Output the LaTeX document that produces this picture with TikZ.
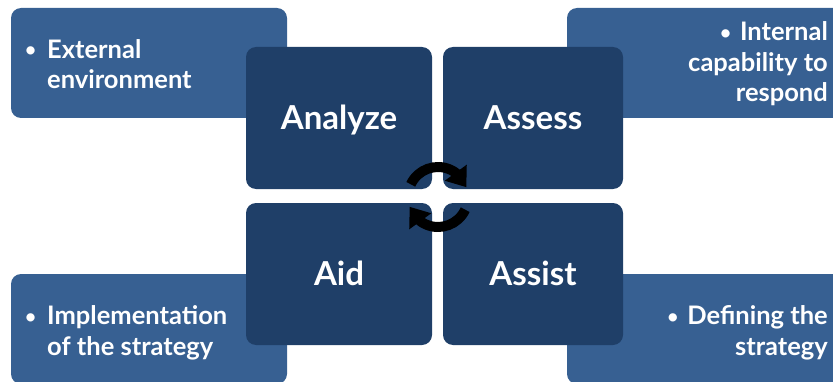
\documentclass[tikz,border=0pt]{standalone}
\usepackage{fontspec}
\setmainfont{Lato}
\usepackage{tikz}
\usetikzlibrary{arrows.meta, bending}
\definecolor{outerblue}{RGB}{55,96,146}
\definecolor{innerblue}{RGB}{31,63,104}
\newcommand{\smallbullet}{\raisebox{1.5pt}{\fontsize{19}{19}\selectfont\textbullet}}
\tikzstyle{outerbox} = [rectangle, rounded corners=10pt, fill=outerblue, minimum width=276pt, minimum height=110pt, inner sep=0]
\tikzstyle{innerbox} = [rectangle, rounded corners=10pt, fill=innerblue, minimum height=142pt, inner sep=0, text=white, font=\fontsize{33}{38}\selectfont\bfseries, text height=23pt, text depth=0pt]
\tikzstyle{bullettext} = [text=white, inner sep=0, font=\fontsize{25.5}{30.5}\selectfont\bfseries]
\tikzstyle{cyclearrow} = [-{Triangle[length=18pt, width=26pt]}, line width=10pt, black]

\begin{document}
\begin{tikzpicture}[x=1pt, y=1pt]
  \useasboundingbox (0,0) rectangle (833,381);
  \clip (0,0) rectangle (833,381);
  % Outer boxes
  \node[outerbox] (external) at (149, 318) {};
  \node[outerbox] (internal) at (705, 318) {};
  \node[outerbox] (implement) at (149, 52) {};
  \node[outerbox] (define) at (705, 52) {};

  % Bullet texts
  \node[bullettext, align=left, anchor=base west] (externaltext) at (25, 292) {\makebox[22pt][l]{\smallbullet}External\\\hspace{22pt}environment};
  \node[bullettext, align=right, anchor=base east] (internaltext) at (828, 279) {\smallbullet\hspace{9pt}Internal\\capability to\\respond};
  \node[bullettext, align=left, anchor=base west] (implementtext) at (25, 26) {\makebox[22pt][l]{\smallbullet}Implementation\\\hspace{22pt}of the strategy};
  \node[bullettext, align=right, anchor=base east] (definetext) at (828, 26) {\smallbullet\hspace{9pt}Defining the\\strategy};

  % Inner boxes
  \node[innerbox, minimum width=186pt] (analyze) at (339, 263) {Analyze};
  \node[innerbox, minimum width=180pt] (assess) at (533, 263) {Assess};
  \node[innerbox, minimum width=186pt] (aid) at (339, 107) {Aid};
  \node[innerbox, minimum width=180pt] (assist) at (533, 107) {Assist};

  % Cycle arrows
  \coordinate (cycle) at (438, 184);
  \draw[cyclearrow] (cycle) ++(155:30) arc[start angle=155, end angle=19, radius=30];
  \draw[cyclearrow] (cycle) ++(-25:30) arc[start angle=-25, end angle=-161, radius=30];
\end{tikzpicture}
\end{document}
